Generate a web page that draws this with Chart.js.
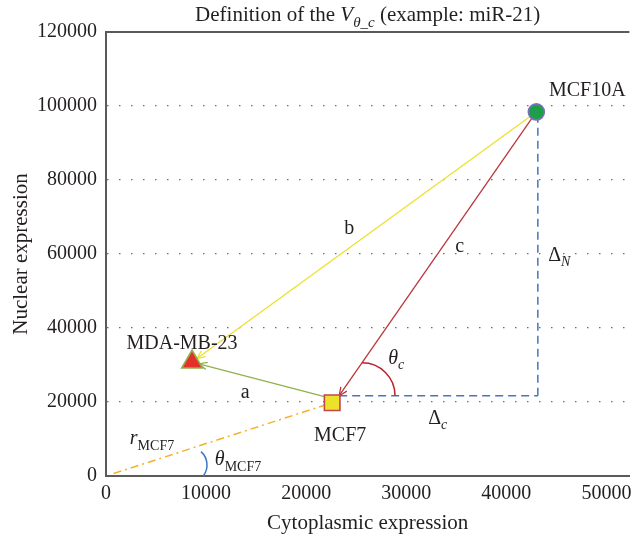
<!DOCTYPE html>
<html>
<head>
<meta charset="utf-8">
<script src="https://cdn.jsdelivr.net/npm/chart.js@4"></script>
<style>
  html, body { margin: 0; padding: 0; background: #fff; }
  #wrap { width: 643px; height: 542px; }
</style>
</head>
<body>
<div id="wrap"><canvas id="chart" width="643" height="542"></canvas></div>
<script>
// Cell lines and their miR-21 expression (cytoplasmic vs nuclear)
const cellLines = ['MCF10A', 'MCF7', 'MDA-MB-23'];
const cytoplasmic = [43000, 22600, 8600];
const nuclear = [98400, 19800, 30800];

// Axis ticks
const xTicks = [0, 10000, 20000, 30000, 40000, 50000];
const yTicks = [0, 20000, 40000, 60000, 80000, 100000, 120000];

const SERIF = '"Liberation Serif", "Times New Roman", serif';
const INK = '#231f20';

// Draw a run of text pieces (italic / subscript) as one label
function richText(ctx, parts, x, y, size, align) {
  const fontFor = p => (p.i ? 'italic ' : '') + (p.s ? Math.round(size * 0.7) : size) + 'px ' + SERIF;
  let w = 0;
  parts.forEach(p => { ctx.font = fontFor(p); w += ctx.measureText(p.t).width; });
  let cx = align === 'center' ? x - w / 2 : x;
  ctx.textAlign = 'left';
  ctx.textBaseline = 'alphabetic';
  ctx.fillStyle = INK;
  parts.forEach(p => {
    ctx.font = fontFor(p);
    ctx.fillText(p.t, cx, y + (p.s ? size * 0.28 : 0));
    cx += ctx.measureText(p.t).width;
  });
}

function line(ctx, x1, y1, x2, y2, color, width, dash) {
  ctx.save();
  ctx.strokeStyle = color;
  ctx.lineWidth = width;
  ctx.setLineDash(dash || []);
  ctx.beginPath();
  ctx.moveTo(x1, y1);
  ctx.lineTo(x2, y2);
  ctx.stroke();
  ctx.restore();
}

// Line with an open arrowhead at its end, pulled back from the end by `gap` px
function arrow(ctx, x1, y1, x2, y2, color, gap) {
  const ang = Math.atan2(y2 - y1, x2 - x1);
  const ex = x2 - Math.cos(ang) * gap, ey = y2 - Math.sin(ang) * gap;
  line(ctx, x1, y1, ex, ey, color, 1.3);
  const len = 9, spread = 0.42;
  ctx.save();
  ctx.strokeStyle = color;
  ctx.lineWidth = 1.3;
  ctx.beginPath();
  ctx.moveTo(ex - Math.cos(ang - spread) * len, ey - Math.sin(ang - spread) * len);
  ctx.lineTo(ex, ey);
  ctx.lineTo(ex - Math.cos(ang + spread) * len, ey - Math.sin(ang + spread) * len);
  ctx.stroke();
  ctx.restore();
}

const geometry = {
  id: 'geometry',
  beforeDatasetsDraw(chart) {
    const { ctx, scales: { x, y } } = chart;
    const P = cellLines.map((_, i) => ({ x: x.getPixelForValue(cytoplasmic[i]), y: y.getPixelForValue(nuclear[i]) }));
    const O = { x: x.getPixelForValue(0), y: y.getPixelForValue(0) };
    const [p10a, p7, pmda] = P;
    const corner = { x: p7.x + 7, y: p7.y - 7 };

    // r_MCF7: ray from the origin to MCF7
    const ra = Math.atan2(p7.y - O.y, p7.x - O.x);
    line(ctx, O.x + Math.cos(ra) * 8, O.y + Math.sin(ra) * 8, p7.x, p7.y, '#f5b02a', 1.5, [8, 4, 2, 4]);

    // Delta_c and Delta_N legs
    line(ctx, corner.x, corner.y, p10a.x + 1.5, corner.y, '#4b74b8', 1.5, [8, 5]);
    line(ctx, p10a.x + 1.5, corner.y, p10a.x + 1.5, p10a.y, '#4b74b8', 1.5, [8, 5]);

    // b, c, a
    arrow(ctx, p10a.x, p10a.y, pmda.x, pmda.y, '#ece12c', 6);
    arrow(ctx, p10a.x, p10a.y, corner.x, corner.y, '#b9373b', 0);
    arrow(ctx, p7.x, p7.y - 4, pmda.x, pmda.y, '#8fb24e', 7);

    // theta_c arc
    const cAng = Math.atan2(corner.y - p10a.y, p10a.x - corner.x);
    const r = 33;
    const ac = { x: corner.x + r / Math.tan(cAng), y: corner.y };
    ctx.save();
    ctx.strokeStyle = '#c0202c';
    ctx.lineWidth = 1.5;
    ctx.beginPath();
    ctx.arc(ac.x, ac.y, r, -Math.PI / 2, 0);
    ctx.stroke();

    // theta_MCF7 arc
    ctx.strokeStyle = '#3f76c0';
    ctx.beginPath();
    ctx.arc(O.x + 83, O.y - 11, 18, -0.84, 0.66);
    ctx.stroke();
    ctx.restore();

    // top frame line
    const a = chart.chartArea;
    line(ctx, a.left - 1, a.top, a.right, a.top, '#5a5a5a', 2);
  },
  afterDatasetsDraw(chart) {
    const { ctx, scales: { x, y } } = chart;
    const P = cellLines.map((_, i) => ({ x: x.getPixelForValue(cytoplasmic[i]), y: y.getPixelForValue(nuclear[i]) }));
    const O = { x: x.getPixelForValue(0), y: y.getPixelForValue(0) };
    const [p10a, p7, pmda] = P;
    const corner = { x: p7.x + 7, y: p7.y - 7 };
    const S = 20;

    richText(ctx, [{ t: cellLines[0] }], p10a.x + 51, p10a.y - 16, S, 'center');
    richText(ctx, [{ t: cellLines[2] }], pmda.x - 10, pmda.y - 13, S, 'center');
    richText(ctx, [{ t: cellLines[1] }], p7.x + 8, p7.y + 38, S, 'center');

    richText(ctx, [{ t: 'a' }], (p7.x + pmda.x) / 2 - 17, (p7.y + pmda.y) / 2 + 16, S, 'center');
    richText(ctx, [{ t: 'b' }], (p10a.x + pmda.x) / 2 - 15, (p10a.y + pmda.y) / 2 - 3, S, 'center');
    richText(ctx, [{ t: 'c' }], (p10a.x + corner.x) / 2 + 22, (p10a.y + corner.y) / 2 - 2, S, 'center');

    richText(ctx, [{ t: 'θ', i: true }, { t: 'c', i: true, s: true }], corner.x + 57, corner.y - 32, S, 'center');
    richText(ctx, [{ t: 'Δ' }, { t: 'N', i: true, s: true }], p10a.x + 23, (p10a.y + corner.y) / 2 + 7, S, 'center');
    richText(ctx, [{ t: 'Δ' }, { t: 'c', i: true, s: true }], (corner.x + p10a.x) / 2, corner.y + 28, S, 'center');
    richText(ctx, [{ t: 'r', i: true }, { t: 'MCF7', s: true }], O.x + 46, O.y - 32, S, 'center');
    richText(ctx, [{ t: 'θ', i: true }, { t: 'MCF7', s: true }], O.x + 132, O.y - 11, S, 'center');

    // title
    const a = chart.chartArea;
    richText(ctx, [
      { t: 'Definition of the ' },
      { t: 'V', i: true },
      { t: 'θ', i: true, s: true },
      { t: '_', s: true },
      { t: 'c', i: true, s: true },
      { t: ' (example: miR-21)' }
    ], (a.left + a.right) / 2, 21, 21, 'center');
  }
};

const markerStyles = [
  { pointStyle: 'circle', radius: 8, bg: '#1f9e4a', border: '#7c6fbf' },
  { pointStyle: 'rect', radius: 11, bg: '#ede22a', border: '#c4454e' },
  { pointStyle: 'triangle', radius: 12, bg: '#e5302a', border: '#8fb24e' }
];

const plainNumber = v => String(v);

new Chart(document.getElementById('chart'), {
  type: 'scatter',
  data: {
    datasets: cellLines.map((name, i) => ({
      label: name,
      data: [{ x: cytoplasmic[i], y: nuclear[i] }],
      pointStyle: markerStyles[i].pointStyle,
      pointRadius: markerStyles[i].radius,
      backgroundColor: markerStyles[i].bg,
      borderColor: markerStyles[i].border,
      borderWidth: 1.6
    }))
  },
  options: {
    responsive: false,
    animation: false,
    devicePixelRatio: 1,
    layout: { padding: { top: 32, right: 8, left: 0, bottom: 0 } },
    plugins: { legend: { display: false }, tooltip: { enabled: false }, title: { display: false } },
    scales: {
      x: {
        type: 'linear',
        position: 'bottom',
        min: 0,
        max: 52300,
        afterBuildTicks: s => { s.ticks = xTicks.map(v => ({ value: v })); },
        afterFit: s => { s.height = 66; },
        grid: { display: false, drawTicks: false },
        border: { display: true, color: '#5a5a5a', width: 2 },
        ticks: { font: { family: SERIF, size: 20 }, color: INK, padding: 6, maxRotation: 0, callback: plainNumber },
        title: { display: true, text: 'Cytoplasmic expression', font: { family: SERIF, size: 21 }, color: INK, padding: { top: 0, bottom: 6 } }
      },
      y: {
        type: 'linear',
        min: 0,
        max: 120000,
        afterBuildTicks: s => { s.ticks = yTicks.map(v => ({ value: v })); },
        afterFit: s => { s.width = 106; },
        grid: {
          drawTicks: false,
          color: c => (c.tick && (c.tick.value === 0 || c.tick.value === 120000)) ? 'rgba(0,0,0,0)' : '#6e6e6e',
          lineWidth: 1.3
        },
        border: { display: true, color: '#5a5a5a', width: 2, dash: [1.5, 10.5] },
        ticks: { font: { family: SERIF, size: 20 }, color: INK, padding: 9, callback: plainNumber },
        title: { display: true, text: 'Nuclear expression', font: { family: SERIF, size: 21 }, color: INK, padding: { top: 9, bottom: 0 } }
      }
    }
  },
  plugins: [geometry]
});
</script>
</body>
</html>
